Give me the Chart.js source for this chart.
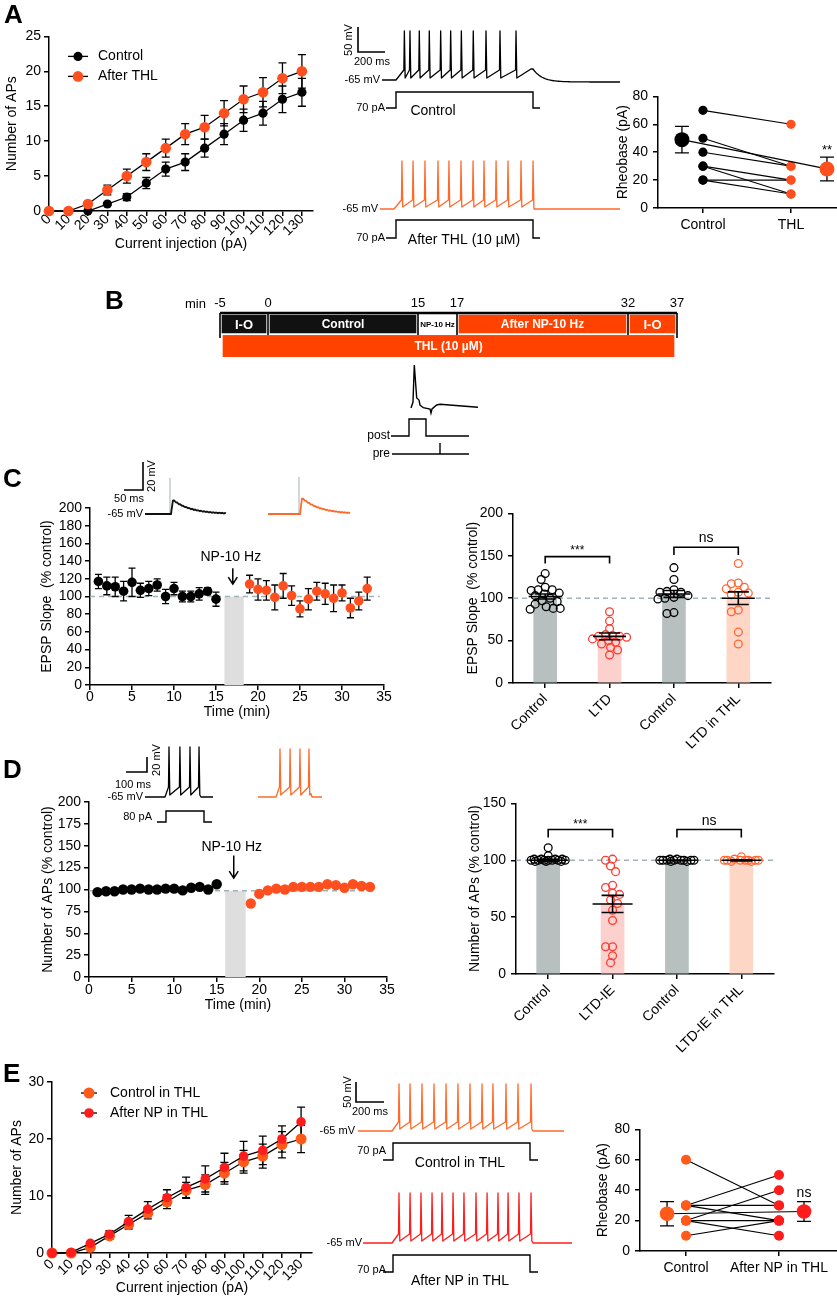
<!DOCTYPE html>
<html><head><meta charset="utf-8">
<script src="https://cdn.jsdelivr.net/npm/chart.js@4.4.0/dist/chart.umd.min.js"></script>
<style>
body{margin:0;background:#fff;}
#fig{position:relative;width:837px;height:1300px;overflow:hidden;background:#fff;}
#fig canvas{position:absolute;}
</style></head><body><div id="fig"></div>
<script>
// ---------------- DATA ----------------
const A_CURRENT = [0,10,20,30,40,50,60,70,80,90,100,110,120,130];
const A_CTRL     = [0,0,0,1,2,4,6,7,9,11,13,14,16,17];
const A_CTRL_ERR = [0,0,0,0.2,0.5,0.8,1,1.2,1.3,1.5,1.6,1.7,1.9,2];
const A_THL      = [0,0,1,3,5,7,9,11,12,14,16,17,19,20];
const A_THL_ERR  = [0,0,0.2,0.7,1,1.2,1.3,1.5,1.7,1.8,1.9,2.1,2.2,2.4];

const A_RHEO_GROUPS = ['Control','THL'];
const A_RHEO_CTRL = [70,50,40,30,30,20,20];
const A_RHEO_THL  = [60,30,30,20,10,20,10];
const A_RHEO_MEAN = [49,28];
const A_RHEO_SEM  = [9.5,8.5];

const B_BREAKS = [-5,0,15,17,32,37];
const B_STAGES = ['I-O','Control','NP-10 Hz','After NP-10 Hz','I-O'];
const B_DRUG = 'THL (10 µM)';

const TIME_TICKS = [0,5,10,15,20,25,30,35];
const C_TIME_PRE  = [1,2,3,4,5,6,7,8,9,10,11,12,13,14,15];
const C_SLOPE_PRE = [117,112,111,106,116,107,109,113,100,109,100,100,103,106,97];
const C_SLOPE_PRE_ERR = [8,10,11,11,16,8,8,7,8,7,6,6,7,4,8];
const C_TIME_POST = [19,20,21,22,23,24,25,26,27,28,29,30,31,32,33];
const C_SLOPE_POST = [114,108,107,99,112,101,86,97,106,103,98,104,87,95,109];
const C_SLOPE_POST_ERR = [10,12,11,14,14,11,9,12,10,12,15,9,11,10,13];

const C_GROUPS = ['Control','LTD','Control','LTD in THL'];
const C_BAR_MEAN = [102,55,105,100];
const C_BAR_SEM  = [3,4,4,7.5];
const C_PTS_CTRL  = [129,122,113,110,110,109,106,105,103,100,97,96,93,90,88,88,87];
const C_PTS_LTD   = [84,73,64,57,56,55,55,54,52,50,48,46,42,39,33];
const C_PTS_CTRL2 = [136,122,110,108,107,107,103,101,100,99,83,82];
const C_PTS_THL   = [141,118,117,113,111,107,106,104,86,84,60,46];

const D_TIME_PRE = [1,2,3,4,5,6,7,8,9,10,11,12,13,14,15];
const D_APS_PRE  = [97,98,98,100,100,101,100,100,101,101,99,102,103,100,106];
const D_APS_PRE_ERR = [1,1,1,1,1,1,1,1,1,1,1,1,1,1,1.5];
const D_TIME_POST = [19,20,21,22,23,24,25,26,27,28,29,30,31,32,33];
const D_APS_POST = [84,95,99,101,100,103,103,103,103,106,105,102,106,104,103];
const D_APS_POST_ERR = [2,4,2,1.5,1.5,1.5,1.5,1.5,1.5,1.5,1.5,1.5,1.5,1.5,1.5];

const D_GROUPS = ['Control','LTD-IE','Control','LTD-IE in THL'];
const D_BAR_MEAN = [100,61.6,100,100];
const D_BAR_SEM  = [0.8,7.5,0.3,0.5];
const D_PTS_CTRL  = [111,104,101,101,101,101,100,100,100,100,100,100,100,99,99,99];
const D_PTS_LTD   = [101,100,95,90,78,76,71,70,65,62,56,47,24,24,16,10];
const D_PTS_CTRL2 = [101,101,100,100,100,100,100,100,100,100,99,99];
const D_PTS_THL   = [103,101,100,100,100,100,100,100,100,99,99];

const E_CURRENT = [0,10,20,30,40,50,60,70,80,90,100,110,120,130];
const E_CTRL     = [0,0,1,3,5,7,9,11,12,14,16,17,19,20];
const E_CTRL_ERR = [0,0,0.3,0.6,0.8,1,1.2,1.4,1.7,1.9,2,2.1,2.3,2.4];
const E_NP       = [0,0.1,1.7,3.3,5.5,7.7,9.7,11.5,13,15,17,18,20,23];
const E_NP_ERR   = [0,0,0.3,0.6,1.1,1.3,1.4,1.8,2.3,2.5,2.6,2.5,2.3,2.6];

const E_RHEO_GROUPS = ['Control','After NP in THL'];
const E_RHEO_CTRL = [60,30,30,30,20,20,20,10];
const E_RHEO_NP   = [30,50,30,20,40,20,10,20];
const E_RHEO_MEAN = [24.5,26];
const E_RHEO_SEM  = [8,6.5];

// example-trace spike times (ms after step onset)
const A_SPK_CTRL = [61,102,170,243,326,399,477,564,657,759,876];
const A_SPK_THL  = [58,139,226,321,401,489,577,657,745,832,927,1015];
const D_SPK_CTRL = [19,71,119,162];
const D_SPK_THL  = [19,67,114,157];
const E_SPK_CTRL = [50,129,214,300,386,471,557,643,721,814,900,993];
const E_SPK_NP   = [50,129,207,286,357,436,514,600,679,757,829,907,993];

// ---------------- STYLE ----------------
const OR = '#ff4f1f', OR_TR = '#ff6a2a', B_OR = '#ff4200', RED = '#ff3a30', E_OR = '#ff5a1a', E_RED = '#ff1c1c';
const GREY_BAR = '#b7c0bf', PINK_BAR = '#fcd0cc', PEACH_BAR = '#fdd6c6', DASH = '#9fb3b7';
const FONT = '"Liberation Sans", Arial, Helvetica, sans-serif';

Chart.defaults.animation = false;
Chart.defaults.font.family = FONT;
Chart.defaults.font.size = 14;
Chart.defaults.color = '#000';
Chart.defaults.plugins.legend.display = false;
Chart.defaults.plugins.tooltip.enabled = false;
Chart.defaults.events = [];

const fig = document.getElementById('fig');
function mk(x,y,w,h){const c=document.createElement('canvas');c.width=w;c.height=h;
  Object.assign(c.style,{left:x+'px',top:y+'px',width:w+'px',height:h+'px'});fig.appendChild(c);return c;}

const grid = () => ({display:true,drawOnChartArea:false,drawTicks:true,tickLength:5,color:'#000',lineWidth:1.5,offset:false});
const border = () => ({display:true,color:'#000',width:1.5});
function yAxis(min,max,step,w,title,pad=3){return{type:'linear',position:'left',min,max,offset:false,
  ticks:{stepSize:step,padding:pad,autoSkip:false,includeBounds:false,color:'#000',font:{size:14}},
  grid:grid(),border:border(),
  title:{display:!!title,text:title||'',color:'#000',font:{size:14},padding:{top:4,bottom:4}},
  afterFit(s){s.width=w;}};}
function xAxis(min,max,vals,h,o={}){return{type:'linear',position:'bottom',min,max,offset:false,
  afterBuildTicks(s){s.ticks=vals.map(v=>({value:v}));},
  ticks:{padding:o.pad??3,autoSkip:false,maxRotation:o.rot||0,minRotation:o.rot||0,color:'#000',font:{size:14},
    callback:o.labels?((v,i)=>o.labels[i]):(v=>String(v))},
  grid:grid(),border:border(),
  title:{display:!!o.title,text:o.title||'',color:'#000',font:{size:14},padding:{top:4,bottom:4}},
  afterFit(s){s.height=h;}};}
function opts(pad,scales,extra={}){return Object.assign({responsive:false,devicePixelRatio:1,animation:false,events:[],
  layout:{padding:pad,autoPadding:false},scales,plugins:{legend:{display:false},tooltip:{enabled:false}}},extra);}

function txt(ctx,s,x,y,size,o={}){ctx.save();ctx.fillStyle=o.color||'#000';
  ctx.font=(o.bold?'bold ':'')+size+'px '+FONT;ctx.textAlign=o.align||'center';ctx.textBaseline=o.base||'middle';
  ctx.translate(x,y);if(o.rot)ctx.rotate(o.rot);ctx.fillText(s,0,0);ctx.restore();}

// generic annotation plugin (error bars, reference line, shading, brackets, legend)
function extras(cfg){return{id:'extras',
  beforeDatasetsDraw(chart){const ctx=chart.ctx,xs=chart.scales.x,ys=chart.scales.y;ctx.save();
    if(cfg.shade){const s=cfg.shade;const x0=xs.getPixelForValue(s.x0),x1=xs.getPixelForValue(s.x1),y0=ys.getPixelForValue(s.y0),y1=ys.getPixelForValue(s.y1);
      ctx.fillStyle=s.color;ctx.fillRect(x0,y1,x1-x0,y0-y1);}
    if(cfg.ref&&cfg.refAfter===undefined)drawRef(chart,cfg.ref);
    chart.data.datasets.forEach((ds,i)=>{if(!ds.errorBars)return;const meta=chart.getDatasetMeta(i);const cap=ds.errCap||4;
      meta.data.forEach((el,j)=>{const e=ds.errorBars[j];if(!e)return;const v=ds.data[j].y;
        const yt=ys.getPixelForValue(v+e),yb=ys.getPixelForValue(v-e);
        ctx.strokeStyle='#000';ctx.lineWidth=1.3;ctx.beginPath();
        ctx.moveTo(el.x,yt);ctx.lineTo(el.x,yb);ctx.moveTo(el.x-cap,yt);ctx.lineTo(el.x+cap,yt);
        ctx.moveTo(el.x-cap,yb);ctx.lineTo(el.x+cap,yb);ctx.stroke();});});
    ctx.restore();},
  afterDatasetDraw(chart,args){if(cfg.ref&&cfg.refAfter===args.index)drawRef(chart,cfg.ref);},
  afterDatasetsDraw(chart){const ctx=chart.ctx,xs=chart.scales.x,ys=chart.scales.y,ca=chart.chartArea;ctx.save();
    if(cfg.meanSem){const m=cfg.meanSem;m.means.forEach((mv,i)=>{const x=xs.getPixelForValue(i+1),y=ys.getPixelForValue(mv),
        yt=ys.getPixelForValue(mv+m.sems[i]),yb=ys.getPixelForValue(mv-m.sems[i]);
      ctx.strokeStyle='#000';ctx.lineWidth=1.6;ctx.beginPath();ctx.moveTo(x-m.half,y);ctx.lineTo(x+m.half,y);
      ctx.moveTo(x,yt);ctx.lineTo(x,yb);ctx.moveTo(x-m.cap,yt);ctx.lineTo(x+m.cap,yt);ctx.moveTo(x-m.cap,yb);ctx.lineTo(x+m.cap,yb);ctx.stroke();});}
    (cfg.brackets||[]).forEach(b=>{const xa=xs.getPixelForValue(b.a),xb=xs.getPixelForValue(b.b),y=ys.getPixelForValue(b.y),yd=ys.getPixelForValue(b.drop);
      ctx.strokeStyle='#000';ctx.lineWidth=1.6;ctx.beginPath();ctx.moveTo(xa,yd);ctx.lineTo(xa,y);ctx.lineTo(xb,y);ctx.lineTo(xb,yd);ctx.stroke();
      txt(ctx,b.text,(xa+xb)/2,y-b.dy,b.size);});
    if(cfg.arrow){const a=cfg.arrow;const x=xs.getPixelForValue(a.x),y0=ys.getPixelForValue(a.y0),y1=ys.getPixelForValue(a.y1);
      txt(ctx,a.text,x-2,ys.getPixelForValue(a.textY),14);
      ctx.strokeStyle='#000';ctx.lineWidth=1.5;ctx.beginPath();ctx.moveTo(x,y0);ctx.lineTo(x,y1);
      ctx.moveTo(x-4.5,y1-7);ctx.lineTo(x,y1);ctx.lineTo(x+4.5,y1-7);ctx.stroke();}
    (cfg.texts||[]).forEach(t=>txt(ctx,t.text,xs.getPixelForValue(t.x),ys.getPixelForValue(t.y),t.size));
    if(cfg.legend){const L=cfg.legend;L.items.forEach((it,i)=>{const y=ca.top+L.ys[i];
      ctx.strokeStyle='#000';ctx.lineWidth=1.3;ctx.beginPath();ctx.moveTo(ca.left+L.lineFrom,y);ctx.lineTo(ca.left+L.lineTo,y);ctx.stroke();
      ctx.fillStyle=it.color;ctx.beginPath();ctx.arc(ca.left+(L.lineFrom+L.lineTo)/2,y,it.r,0,Math.PI*2);ctx.fill();
      txt(ctx,it.text,ca.left+L.textX,y,14,{align:'left'});});}
    ctx.restore();}
};}
function drawRef(chart,r){const ctx=chart.ctx,xs=chart.scales.x,ys=chart.scales.y,ca=chart.chartArea;
  const y=ys.getPixelForValue(r.y);ctx.save();ctx.strokeStyle=DASH;ctx.lineWidth=1.5;ctx.setLineDash([5,4]);
  ctx.beginPath();ctx.moveTo(ca.left,y);ctx.lineTo(r.x1!==undefined?xs.getPixelForValue(r.x1):ca.right,y);ctx.stroke();ctx.restore();}

// deterministic beeswarm layout for individual cells
function swarm(vals,center,pxY,pxX,minD,maxHalf){const placed=[];return vals.map(v=>{const py=v*pxY;let best=0,bs=Infinity;
  for(let k=0;k<=maxHalf*2;k++){const off=k===0?0:(k%2?-(k+1)/2:k/2);let sc=0;
    placed.forEach(p=>{const d=Math.hypot(p[0]-off,p[1]-py);if(d<minD)sc+=(minD-d)*(minD-d);});
    if(sc<bs-1e-9){bs=sc;best=off;}if(bs===0)break;}
  placed.push([best,py]);return{x:center+best/pxX,y:v};});}

// ---------------- PANEL A: I-O curve ----------------
new Chart(mk(0,25,330,232),{type:'scatter',
  data:{datasets:[
    {data:A_CURRENT.map((c,i)=>({x:c,y:A_THL[i]})),errorBars:A_THL_ERR,showLine:true,borderColor:'#000',borderWidth:1.3,pointRadius:5.3,pointBackgroundColor:OR,pointBorderWidth:0,clip:false},
    {data:A_CURRENT.map((c,i)=>({x:c,y:A_CTRL[i]})),errorBars:A_CTRL_ERR,showLine:true,borderColor:'#000',borderWidth:1.3,pointRadius:4.6,pointBackgroundColor:'#000',pointBorderWidth:0,clip:false}]},
  options:opts({left:0,right:17,top:10,bottom:0},{
    x:xAxis(0,135.7,A_CURRENT,46,{rot:45,pad:-5,title:'Current injection (pA)'}),
    y:yAxis(0,25,5,49,'Number of APs',3)}),
  plugins:[extras({legend:{items:[{text:'Control',color:'#000',r:4.6},{text:'After THL',color:OR,r:5.3}],lineFrom:19,lineTo:39,textX:49,ys:[20,40]}})]
});

// ---------------- PANEL A: rheobase ----------------
(function(){
  const ds=[{data:[{x:0.761,y:A_RHEO_MEAN[0]},{x:2.409,y:A_RHEO_MEAN[1]}],errorBars:A_RHEO_SEM,errCap:7,showLine:true,borderColor:'#000',borderWidth:1.2,pointRadius:7.5,pointBackgroundColor:['#000',OR],pointBorderWidth:0,clip:false},
    {data:A_RHEO_THL.map(v=>({x:2,y:v})),pointRadius:4.6,pointBackgroundColor:OR,pointBorderWidth:0,clip:false},
    {data:A_RHEO_CTRL.map(v=>({x:1,y:v})),pointRadius:4.6,pointBackgroundColor:'#000',pointBorderWidth:0,clip:false}];
  A_RHEO_CTRL.forEach((c,i)=>ds.push({data:[{x:1,y:c},{x:2,y:A_RHEO_THL[i]}],showLine:true,borderColor:'#000',borderWidth:1.1,pointRadius:0,clip:false}));
  new Chart(mk(611,83,226,165),{type:'scatter',data:{datasets:ds},
    options:opts({left:0,right:0,top:10,bottom:0},{x:xAxis(0.489,2.523,[1,2],40,{labels:A_RHEO_GROUPS,pad:4}),y:yAxis(0,80,20,47,'Rheobase (pA)',5)}),
    plugins:[extras({texts:[{x:2.409,y:41,text:'**',size:13}]})]});
})();

// ---------------- PANEL B: protocol timeline ----------------
class PiecewiseLinearScale extends Chart.LinearScale{
  buildTicks(){return B_BREAKS.map(v=>({value:v}));}
  getPixelForValue(value){const w=this.options.segWidths||[1,1,1,1,1];const tot=w.reduce((a,b)=>a+b,0);let acc=0;
    for(let i=0;i<w.length;i++){const a=B_BREAKS[i],b=B_BREAKS[i+1];
      if(value<=b||i===w.length-1)return this.getPixelForDecimal((acc+w[i]*(value-a)/(b-a))/tot);acc+=w[i];}}
}
PiecewiseLinearScale.id='piecewiseLinear';
PiecewiseLinearScale.defaults=Chart.LinearScale.defaults;
Chart.register(PiecewiseLinearScale);
new Chart(mk(180,290,520,70),{type:'bar',
  data:{labels:['stage','drug'],datasets:[
    {data:B_STAGES.map((s,i)=>({x:[B_BREAKS[i],B_BREAKS[i+1]],y:'stage'})),backgroundColor:['#111','#111','#fff',B_OR,B_OR],borderColor:'#fff',borderWidth:2,borderSkipped:false,barThickness:22,grouped:false},
    {data:[{x:[B_BREAKS[0],B_BREAKS[B_BREAKS.length-1]],y:'drug'}],backgroundColor:B_OR,borderColor:'#fff',borderWidth:{left:3,right:3,top:0,bottom:0},borderSkipped:false,barThickness:22,grouped:false}]},
  options:opts({left:40,right:23,top:0,bottom:3},{
    x:{type:'piecewiseLinear',position:'top',min:-5,max:37,segWidths:[48,150,39,171,49],
      ticks:{callback:v=>String(v),font:{size:13},color:'#000',padding:2,autoSkip:false,maxRotation:0,minRotation:0},
      grid:{display:false,drawTicks:false},border:{display:false},afterFit(s){s.height=23;}},
    y:{type:'category',display:false,offset:true}},{indexAxis:'y'}),
  plugins:[{id:'bframe',afterDatasetsDraw(chart){const ctx=chart.ctx,xs=chart.scales.x,ca=chart.chartArea;ctx.save();
    ctx.strokeStyle='#000';ctx.lineWidth=1.6;
    B_BREAKS.forEach((b,i)=>{const x=xs.getPixelForValue(b);const ext=(i===0||i===B_BREAKS.length-1)?25:22;
      ctx.beginPath();ctx.moveTo(x,ca.top);ctx.lineTo(x,ca.top+ext);ctx.stroke();});
    ctx.lineWidth=2.6;ctx.beginPath();ctx.moveTo(xs.getPixelForValue(B_BREAKS[0]),ca.top);ctx.lineTo(xs.getPixelForValue(B_BREAKS[B_BREAKS.length-1]),ca.top);ctx.stroke();
    const m0=chart.getDatasetMeta(0),m1=chart.getDatasetMeta(1);const cols=['#fff','#fff','#000','#fff','#fff'],sz=[13,12,8,12,13];
    m0.data.forEach((el,i)=>txt(ctx,B_STAGES[i],(el.x+el.base)/2,el.y+1,sz[i],{bold:true,color:cols[i]}));
    const e=m1.data[0];txt(ctx,B_DRUG,(e.x+e.base)/2,e.y+1,12,{bold:true,color:'#fff'});
    txt(ctx,'min',ca.left-35,ca.top-9,13,{align:'left'});
    ctx.restore();}}]
});

// ---------------- PANEL C: EPSP time course ----------------
new Chart(mk(35,495,365,230),{type:'scatter',
  data:{datasets:[
    {data:C_TIME_POST.map((t,i)=>({x:t,y:C_SLOPE_POST[i]})),errorBars:C_SLOPE_POST_ERR,errCap:3.5,pointRadius:4.8,pointBackgroundColor:OR,pointBorderWidth:0,clip:false},
    {data:C_TIME_PRE.map((t,i)=>({x:t,y:C_SLOPE_PRE[i]})),errorBars:C_SLOPE_PRE_ERR,errCap:3.5,pointRadius:4.8,pointBackgroundColor:'#000',pointBorderWidth:0,clip:false}]},
  options:opts({left:0,right:16,top:13,bottom:0},{
    x:xAxis(0,35,TIME_TICKS,40,{title:'Time (min)',pad:-1}),
    y:yAxis(0,200,20,55,'EPSP Slope  (% control)',3)}),
  plugins:[extras({shade:{x0:16,x1:18.3,y0:0,y1:100,color:'#dedede'},ref:{y:100,x1:34.5},arrow:{x:17,textY:145,y0:132,y1:114,text:'NP-10 Hz'}})]
});

// ---------------- bar + scatter summary panels ----------------
function barChart(canvas,groups,means,sems,pts,colors,barCols,yMax,yStep,yW,title,pxY,brackets,half,cap){
  const ds=pts.map((p,i)=>({data:swarm(p,i+1,pxY,64.3,7,17),pointRadius:3.9,pointBackgroundColor:'rgba(0,0,0,0)',pointBorderColor:colors[i],pointBorderWidth:1.3,clip:false}));
  ds.push({type:'bar',data:means.map((m,i)=>({x:i+1,y:m})),backgroundColor:barCols,barThickness:23,grouped:false});
  return new Chart(canvas,{type:'scatter',data:{datasets:ds},
    options:opts({left:0,right:canvas.width-yW-257.5,top:12,bottom:0},{
      x:xAxis(0.5,4.5,[1,2,3,4],90,{labels:groups,rot:45,pad:3}),
      y:yAxis(0,yMax,yStep,yW,title,5)}),
    plugins:[extras({ref:{y:100},refAfter:ds.length-1,meanSem:{means,sems,half,cap},brackets})]});
}
barChart(mk(461,500,376,273),C_GROUPS,C_BAR_MEAN,C_BAR_SEM,[C_PTS_CTRL,C_PTS_LTD,C_PTS_CTRL2,C_PTS_THL],
  ['#000',RED,'#000','#ff6633'],[GREY_BAR,PINK_BAR,GREY_BAR,PEACH_BAR],200,50,52,'EPSP Slope  (% control)',171/200,
  [{a:1,b:2,y:149,drop:141,text:'***',size:12,dy:6},{a:3,b:4,y:160,drop:151,text:'ns',size:14,dy:9}],16.5,10.5);

// ---------------- PANEL D: AP time course ----------------
new Chart(mk(36,790,364,228),{type:'scatter',
  data:{datasets:[
    {data:D_TIME_POST.map((t,i)=>({x:t,y:D_APS_POST[i]})),errorBars:D_APS_POST_ERR,errCap:3,pointRadius:5.2,pointBackgroundColor:OR,pointBorderWidth:0,clip:false},
    {data:D_TIME_PRE.map((t,i)=>({x:t,y:D_APS_PRE[i]})),errorBars:D_APS_PRE_ERR,errCap:3,pointRadius:5.2,pointBackgroundColor:'#000',pointBorderWidth:0,clip:false}]},
  options:opts({left:0,right:13,top:12,bottom:0},{
    x:xAxis(0,35,TIME_TICKS,41,{title:'Time (min)',pad:0}),
    y:yAxis(0,200,25,53,'Number of APs (% control)',3)}),
  plugins:[extras({shade:{x0:16,x1:18.4,y0:0,y1:98.5,color:'#dedede'},ref:{y:98.5,x1:33.6},arrow:{x:17,textY:148,y0:139,y1:113,text:'NP-10 Hz'}})]
});

barChart(mk(463,790,374,274),D_GROUPS,D_BAR_MEAN,D_BAR_SEM,[D_PTS_CTRL,D_PTS_LTD,D_PTS_CTRL2,D_PTS_THL],
  ['#000',RED,'#000','#ff6633'],[GREY_BAR,PINK_BAR,GREY_BAR,PEACH_BAR],150,50,53,'Number of APs (% control)',172/150,
  [{a:1,b:2,y:127,drop:120,text:'***',size:12,dy:5},{a:3,b:4,y:127,drop:120,text:'ns',size:14,dy:8}],20,11);

// ---------------- PANEL E: I-O curve in THL ----------------
new Chart(mk(5,1070,325,231),{type:'scatter',
  data:{datasets:[
    {data:E_CURRENT.map((c,i)=>({x:c,y:E_NP[i]})),errorBars:E_NP_ERR,showLine:true,borderColor:'#000',borderWidth:1.3,pointRadius:4.8,pointBackgroundColor:E_RED,pointBorderWidth:0,clip:false},
    {data:E_CURRENT.map((c,i)=>({x:c,y:E_CTRL[i]})),errorBars:E_CTRL_ERR,showLine:true,borderColor:'#000',borderWidth:1.3,pointRadius:5.5,pointBackgroundColor:E_OR,pointBorderWidth:0,clip:false}]},
  options:opts({left:0,right:18,top:12,bottom:0},{
    x:xAxis(0,135.7,E_CURRENT,48,{rot:45,pad:-2,title:'Current injection (pA)'}),
    y:yAxis(0,30,10,47,'Number of APs',3)}),
  plugins:[extras({legend:{items:[{text:'Control in THL',color:E_OR,r:5.5},{text:'After NP in THL',color:E_RED,r:4.8}],lineFrom:29,lineTo:45,textX:58,ys:[11,31]}})]
});

// ---------------- PANEL E: rheobase ----------------
(function(){
  const ds=[{data:[{x:0.796,y:E_RHEO_MEAN[0]},{x:2.269,y:E_RHEO_MEAN[1]}],errorBars:E_RHEO_SEM,errCap:7,showLine:true,borderColor:'#000',borderWidth:1.2,pointRadius:7.3,pointBackgroundColor:[E_OR,E_RED],pointBorderWidth:0,clip:false},
    {data:E_RHEO_NP.map(v=>({x:2,y:v})),pointRadius:5,pointBackgroundColor:E_RED,pointBorderWidth:0,clip:false},
    {data:E_RHEO_CTRL.map(v=>({x:1,y:v})),pointRadius:5,pointBackgroundColor:E_OR,pointBorderWidth:0,clip:false}];
  E_RHEO_CTRL.forEach((c,i)=>ds.push({data:[{x:1,y:c},{x:2,y:E_RHEO_NP[i]}],showLine:true,borderColor:'#000',borderWidth:1.1,pointRadius:0,clip:false}));
  new Chart(mk(591,1116,246,175),{type:'scatter',data:{datasets:ds},
    options:opts({left:0,right:0,top:10,bottom:0},{x:xAxis(0.505,2.624,[1,2],40,{labels:E_RHEO_GROUPS,pad:4}),y:yAxis(0,80,20,49,'Rheobase (pA)',5)}),
    plugins:[extras({texts:[{x:2.269,y:38,text:'ns',size:14}]})]});
})();

// ---------------- ILLUSTRATIONS (example traces, panel letters) ----------------
const ov=mk(0,0,837,1300);ov.style.zIndex=5;const g=ov.getContext('2d');
function T(s,x,y,size,o={}){txt(g,s,x,y,size,o);}
function poly(pts,color='#000',w=1.5){g.save();g.strokeStyle=color;g.lineWidth=w;g.beginPath();
  pts.forEach((p,i)=>i?g.lineTo(p[0],p[1]):g.moveTo(p[0],p[1]));g.stroke();g.restore();}
function scaleBar(xV,yTop,yBot,xH){poly([[xH,yBot],[xV,yBot],[xV,yTop]],'#000',1.6);}
function step(x0,xOn,xOff,x1,yLo,yHi){poly([[x0,yLo],[xOn,yLo],[xOn,yHi],[xOff,yHi],[xOff,yLo],[x1,yLo]],'#000',1.4);}
function train(t){const sp=t.spk.map(ms=>t.xOn+ms*t.pxPerMs);const yThr=t.yB-t.thr,yTr=t.yB-t.tr;
  g.save();g.strokeStyle=t.color;g.lineWidth=1.3;g.lineJoin='round';g.beginPath();
  g.moveTo(t.x0,t.yB);g.lineTo(t.xOn,t.yB);g.lineTo(sp[0]-0.5,yThr);
  sp.forEach((sx,i)=>{g.lineTo(sx,t.yTop);g.lineTo(sx+0.8,yTr);if(i<sp.length-1)g.lineTo(sp[i+1]-0.5,yThr);});
  const last=sp[sp.length-1];
  if(t.tail==='slow'){g.lineTo(t.xOff-2,t.yB-t.thr*1.1);
    for(let x=t.xOff;x<=t.x1;x+=1.5){g.lineTo(x,t.yB+2-(t.thr*1.1+2)*Math.exp(-(x-t.xOff)/9));}}
  else{if(t.xOff-last>2)g.lineTo(t.xOff,yTr-(t.thr-t.tr)*Math.min(1,(t.xOff-last)/12));g.lineTo(t.xOff+1,t.yB);g.lineTo(t.x1,t.yB);}
  g.stroke();g.restore();}
function epsp(x0,xOn,x1,yB,yArt,yPk,color){poly([[xOn,yB],[xOn,yArt]],'#a5b0b0',1);
  g.save();g.strokeStyle=color;g.lineWidth=1.8;g.beginPath();g.moveTo(x0,yB);g.lineTo(xOn+1,yB);g.lineTo(xOn+3,yPk);
  for(let x=xOn+3;x<=x1;x+=1){g.lineTo(x,yB-(yB-yPk)*Math.exp(-(x-xOn-3)/18)+((x*7)%3-1)*0.3);}g.stroke();g.restore();}

[['A',4,23],['B',105,309],['C',3,487],['D',3,778],['E',3,1082]].forEach(l=>T(l[0],l[1],l[2],26,{bold:true,align:'left',base:'alphabetic'}));

// A traces
scaleBar(358,27,52,385);
T('50 mV',349,40,11,{rot:-Math.PI/2});T('200 ms',372,62,11);
T('-65 mV',380,80,11,{align:'right'});
train({x0:382,xOn:396,xOff:533,x1:620,yB:80,yTop:31,thr:10,tr:2,spk:A_SPK_CTRL,pxPerMs:0.137,color:'#000',tail:'slow'});
T('70 pA',385,108,11,{align:'right'});step(386,396,533,540,108,92);
T('Control',433,111,14);
T('-65 mV',378,209,11,{align:'right'});
train({x0:380,xOn:394,xOff:533,x1:620,yB:209,yTop:161,thr:9,tr:2,spk:A_SPK_THL,pxPerMs:0.137,color:OR_TR,tail:'fast'});
T('70 pA',385,238,11,{align:'right'});step(386,396,533,540,238,220);
T('After THL (10 µM)',464,240,14);

// B pairing example
poly([[411,408],[413,402],[414.3,365],[416.7,398],[419,400],[420,405],[423.3,407.7],[430,409],[431,413],[432,409],[436.7,405],[440,404.3],[478,407.3]],'#000',1.4);
T('post',390,436,12,{align:'right'});T('pre',390,454,12,{align:'right'});
poly([[391,436],[409,436],[409,419],[426,419],[426,436],[469,436]],'#000',1.4);
poly([[392,454],[469,454]],'#000',1.4);poly([[440,454],[440,443]],'#000',1.4);

// C traces
scaleBar(143,462,490,124);
T('20 mV',152,476,11,{rot:-Math.PI/2});T('50 ms',129,499,11);
T('-65 mV',143,514,11,{align:'right'});
epsp(145,170,226,514,478,500,'#111');
epsp(268,299,350,514,477,498,OR_TR);

// D traces
scaleBar(147,757,772,126);
T('20 mV',157,760,11,{rot:-Math.PI/2});T('100 ms',133,785,11);
T('-65 mV',143,797,11,{align:'right'});
train({x0:145,xOn:165,xOff:200,x1:213,yB:797,yTop:747,thr:10,tr:2,spk:D_SPK_CTRL,pxPerMs:0.21,color:'#000',tail:'fast'});
T('80 pA',152,817,11,{align:'right'});step(157,166,204,212,822,811);
train({x0:258,xOn:276,xOff:311,x1:322,yB:797,yTop:749,thr:10,tr:2,spk:D_SPK_THL,pxPerMs:0.21,color:OR_TR,tail:'fast'});

// E traces
scaleBar(356,1082,1102,384);
T('50 mV',348,1092,11,{rot:-Math.PI/2});T('200 ms',370,1112,11);
T('-65 mV',355,1131,11,{align:'right'});
train({x0:358,xOn:392,xOff:532,x1:564,yB:1131,yTop:1084,thr:9,tr:2,spk:E_SPK_CTRL,pxPerMs:0.14,color:OR_TR,tail:'fast'});
T('70 pA',386,1151,11,{align:'right'});step(383,393,530,538,1160,1143);
T('Control in THL',460,1163,14);
T('-65 mV',362,1243,11,{align:'right'});
train({x0:363,xOn:392,xOff:532,x1:572,yB:1243,yTop:1193,thr:9,tr:2,spk:E_SPK_NP,pxPerMs:0.14,color:E_RED,tail:'fast'});
T('70 pA',386,1270,11,{align:'right'});step(383,393,530,538,1272,1255);
T('After NP in THL',460,1281,14);
</script></body></html>
